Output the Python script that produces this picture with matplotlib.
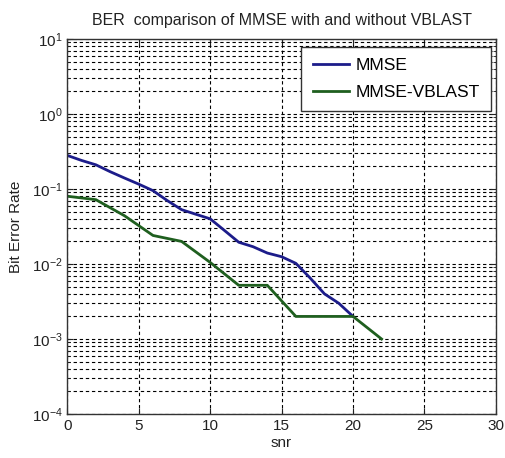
import matplotlib
matplotlib.use("Agg")
import matplotlib.pyplot as plt
import numpy as np
from matplotlib.ticker import LogLocator, NullFormatter, FixedLocator

plt.rcParams['font.family'] = ['Liberation Sans', 'DejaVu Sans']

snr_mmse = [0, 1, 2, 3, 4, 5, 6, 7, 8, 9, 10, 11, 12, 13, 14, 15, 16, 17, 18, 19, 20]
ber_mmse = [0.28, 0.24, 0.21, 0.17, 0.14, 0.116, 0.095, 0.07, 0.053, 0.046, 0.040,
            0.028, 0.0195, 0.017, 0.014, 0.0125, 0.0102, 0.0065, 0.0040, 0.0030, 0.0020]

snr_vblast = [0, 2, 4, 6, 8, 10, 12, 14, 16, 18, 20, 22]
ber_vblast = [0.080, 0.072, 0.044, 0.024, 0.020, 0.0105, 0.0052, 0.0052, 0.0020, 0.0020, 0.0020, 0.0010]

xticks = [0, 5, 10, 15, 20, 25, 30]
yticks = [1e-4, 1e-3, 1e-2, 1e-1, 1e0, 1e1]

fig = plt.figure(figsize=(5.06, 4.58), dpi=100)
ax = fig.add_axes([0.133, 0.096, 0.847, 0.819])

ax.semilogy(snr_mmse, ber_mmse, color='#1c1c8a', lw=2.0, label='MMSE')
ax.semilogy(snr_vblast, ber_vblast, color='#1f5f1f', lw=2.0, label='MMSE-VBLAST')

ax.set_xlim(0, 30)
ax.set_ylim(1e-4, 1e1)
ax.set_xticks(xticks)
ax.set_xticklabels([str(t) for t in xticks])
ax.yaxis.set_major_locator(FixedLocator(yticks))
ax.yaxis.set_minor_locator(LogLocator(base=10, subs=np.arange(2, 10), numticks=20))
ax.yaxis.set_minor_formatter(NullFormatter())

dash = (0, (3, 2.5))
ax.grid(True, which='major', axis='both', color='black', linestyle=dash, lw=0.8)
ax.grid(True, which='minor', axis='y', color='black', linestyle=dash, lw=0.8)

ax.tick_params(which='both', direction='in', top=True, right=True, labelsize=11, colors='#222222')
ax.tick_params(which='major', length=4)
ax.tick_params(which='minor', length=2)
for s in ax.spines.values():
    s.set_color('#333333')
    s.set_linewidth(1.0)

ax.set_title('BER  comparison of MMSE with and without VBLAST', fontsize=11.5, color='#222222', pad=10)
ax.set_xlabel('snr', fontsize=11, color='#222222', labelpad=2)
ax.set_ylabel('Bit Error Rate', fontsize=11, color='#222222', labelpad=6)

leg = ax.legend(loc='upper right', bbox_to_anchor=(0.988, 0.979), borderaxespad=0,
                fontsize=12.5, fancybox=False, framealpha=1, edgecolor='#333333',
                handlelength=2.1, handletextpad=0.35, borderpad=0.65, labelspacing=0.65)
leg.get_frame().set_linewidth(1.0)

fig.savefig('out.png', dpi=100)
